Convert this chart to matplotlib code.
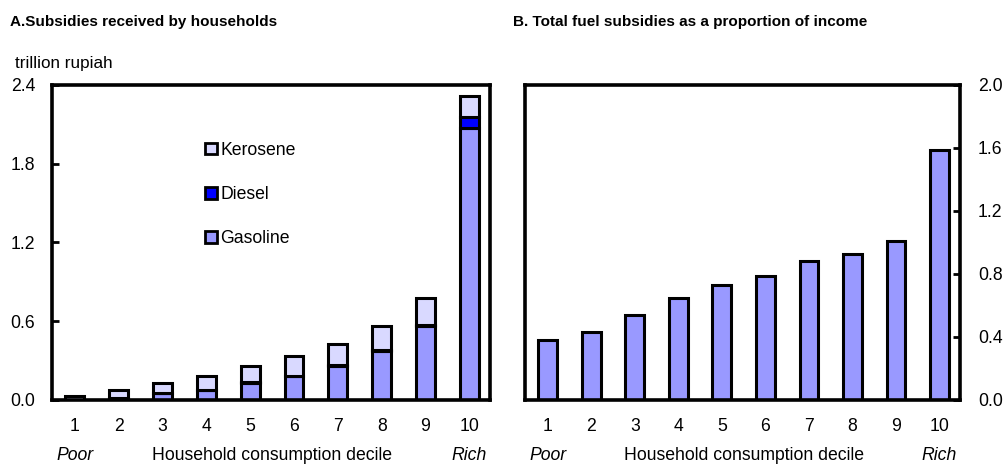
import matplotlib.pyplot as plt
from matplotlib.patches import Patch
import numpy as np

plt.rcParams['font.family'] = ['Liberation Sans', 'DejaVu Sans']

deciles = [1, 2, 3, 4, 5, 6, 7, 8, 9, 10]
tick_labels = ['1', '2', '3', '4', '5', '6', '7', '8', '9', '10']

# panel A: trillion rupiah
gasoline = [0.003, 0.01, 0.05, 0.075, 0.13, 0.18, 0.26, 0.37, 0.565, 2.075]
diesel = [0.0, 0.002, 0.003, 0.004, 0.005, 0.006, 0.007, 0.008, 0.01, 0.084]
kerosene = [0.027, 0.064, 0.074, 0.101, 0.125, 0.149, 0.16, 0.186, 0.2, 0.157]

# panel B: % of income
share_income = [0.38, 0.43, 0.54, 0.65, 0.73, 0.79, 0.88, 0.93, 1.01, 1.59]

c_gas = '#9999FF'
c_die = '#0000FF'
c_ker = '#D9D9FF'

fig = plt.figure(figsize=(10.07, 4.67), dpi=100)
axA = fig.add_axes([0.0516, 0.1435, 0.435, 0.6745])
axB = fig.add_axes([0.5213, 0.1435, 0.432, 0.6745])

w = 0.43
lw = 2.2
fs = 12.7
x = np.array(deciles)
g = np.array(gasoline)
d = np.array(diesel)
k = np.array(kerosene)
axA.bar(x, g, w, color=c_gas, edgecolor='black', linewidth=lw, zorder=2)
axA.bar(x, d, w, bottom=g, color=c_die, edgecolor='black', linewidth=lw, zorder=2)
axA.bar(x, k, w, bottom=g + d, color=c_ker, edgecolor='black', linewidth=lw, zorder=2)

axB.bar(x, share_income, w, color=c_gas, edgecolor='black', linewidth=lw, zorder=2)

for ax in (axA, axB):
    ax.set_xlim(0.48, 10.47)
    ax.set_xticks(deciles)
    ax.set_xticklabels(tick_labels)
    ax.tick_params(axis='x', length=0, pad=13, labelsize=fs)
    for s in ax.spines.values():
        s.set_linewidth(2.6)
    tr = ax.get_xaxis_transform()
    ax.text(1, -0.175, 'Poor', style='italic', ha='center', va='center', fontsize=fs, transform=tr)
    ax.text(10, -0.175, 'Rich', style='italic', ha='center', va='center', fontsize=fs, transform=tr)
    ax.text(5.5, -0.175, 'Household consumption decile', ha='center', va='center', fontsize=fs, transform=tr)

axA.set_ylim(0, 2.4)
axA.set_yticks([0, 0.6, 1.2, 1.8, 2.4])
axA.set_yticklabels(['0.0', '0.6', '1.2', '1.8', '2.4'])
axA.tick_params(axis='y', direction='in', length=5, width=2, pad=12, labelsize=fs)

axB.set_ylim(0, 2.0)
axB.set_yticks([0, 0.4, 0.8, 1.2, 1.6, 2.0])
axB.set_yticklabels(['0.0', '0.4', '0.8', '1.2', '1.6', '2.0'])
axB.yaxis.tick_right()
axB.tick_params(axis='y', direction='in', length=5, width=2, pad=13, labelsize=fs)

handles = [Patch(facecolor=c_ker, edgecolor='black', linewidth=2),
           Patch(facecolor=c_die, edgecolor='black', linewidth=2),
           Patch(facecolor=c_gas, edgecolor='black', linewidth=2)]
axA.legend(handles, ['Kerosene', 'Diesel', 'Gasoline'], loc='upper left',
           bbox_to_anchor=(0.35, 0.82), frameon=False, fontsize=fs,
           handlelength=0.65, handleheight=0.65, handletextpad=0.2,
           labelspacing=1.55, borderpad=0, borderaxespad=0)

fig.text(0.01, 0.952, 'A.Subsidies received by households', fontsize=11, fontweight='bold', va='center')
fig.text(0.509, 0.952, 'B. Total fuel subsidies as a proportion of income', fontsize=11, fontweight='bold', va='center')
fig.text(0.015, 0.865, 'trillion rupiah', fontsize=12.3, va='center')

fig.savefig('out.png', dpi=100)
